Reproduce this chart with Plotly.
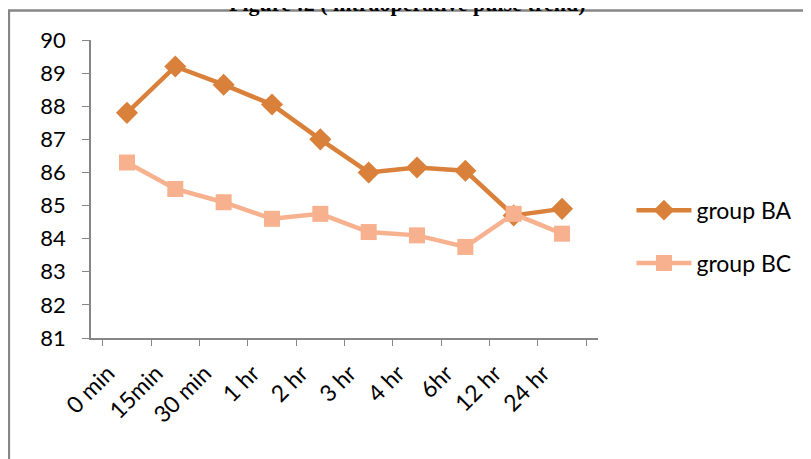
# intraoperative pulse trend, two groups
import plotly.graph_objects as go

time_points = ["0 min", "15min", "30 min", "1 hr", "2 hr", "3 hr", "4 hr", "6hr", "12 hr", "24 hr"]
group_ba = [87.8, 89.2, 88.65, 88.05, 87.0, 86.0, 86.15, 86.05, 84.7, 84.9]
group_bc = [86.3, 85.5, 85.1, 84.6, 84.75, 84.2, 84.1, 83.75, 84.75, 84.15]
y_ticks = list(range(81, 91))

font_main = "Lato, Open Sans, sans-serif"

fig = go.Figure()
fig.add_trace(go.Scatter(x=time_points, y=group_ba, name="group BA", mode="lines+markers",
                         legendgroup="ba",
                         line=dict(color="#D9813B", width=4.5),
                         marker=dict(symbol="diamond", size=17, color="#D9813B")))
fig.add_trace(go.Scatter(x=time_points, y=group_bc, name="group BC", mode="lines+markers",
                         legendgroup="bc",
                         line=dict(color="#F7B18E", width=4.5),
                         marker=dict(symbol="square", size=16, color="#F7B18E")))

fig.update_layout(
    width=811, height=459,
    margin=dict(l=83, r=221, t=32, b=129, autoexpand=False),
    plot_bgcolor="white", paper_bgcolor="white",
    font=dict(family=font_main, color="black"),
    showlegend=True,
    legend=dict(x=1.066, y=0.34, xanchor="left", yanchor="middle",
                font=dict(size=23, family=font_main),
                itemwidth=55, traceorder="grouped", tracegroupgap=20,
                bgcolor="rgba(0,0,0,0)"),
    xaxis=dict(type="category", tickson="boundaries", showline=True, linecolor="#868686",
               linewidth=1.5, ticks="outside", ticklen=6, tickcolor="#868686",
               tickangle=-45, tickfont=dict(size=23), showgrid=False, zeroline=False,
               ticklabelshift=-19, ticklabelstandoff=11, automargin=False),
    yaxis=dict(range=[81, 90], tickvals=y_ticks, showline=True, linecolor="#868686",
               linewidth=1.5, ticks="outside", ticklen=7, tickcolor="#868686",
               tickfont=dict(size=22), showgrid=False, zeroline=False,
               ticklabelstandoff=12, automargin=False),
    annotations=[dict(text="<b>Figure :2 ( intraoperative pulse trend)</b>", xref="paper", yref="paper",
                      x=0.625, y=1.074, xanchor="center", yanchor="bottom", showarrow=False,
                      font=dict(family="Liberation Serif, Times New Roman, serif", size=22))],
    shapes=[dict(type="rect", xref="paper", yref="paper", x0=-0.162, x1=1.5, y0=-0.5, y1=1.099,
                 line=dict(color="#868686", width=2.5), fillcolor="rgba(0,0,0,0)", layer="below")],
)

fig.write_html("out.html")
